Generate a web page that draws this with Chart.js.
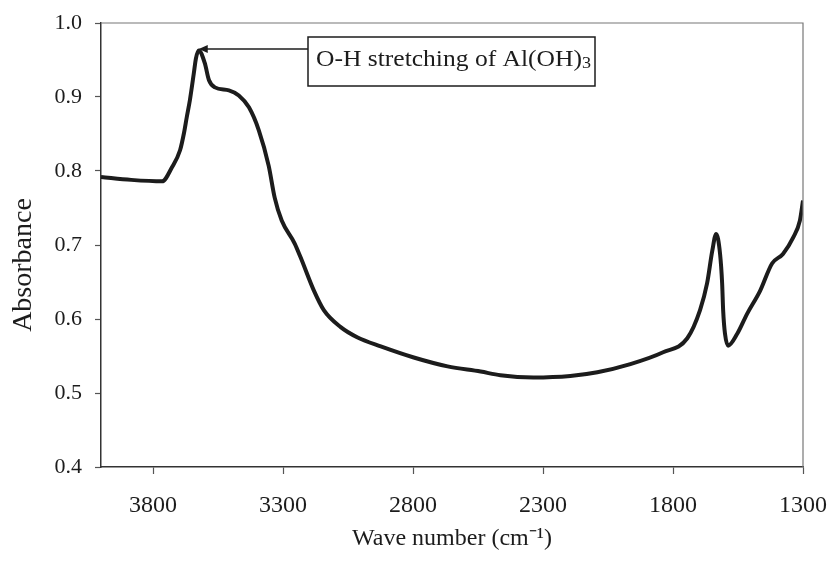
<!DOCTYPE html>
<html>
<head>
<meta charset="utf-8">
<script src="https://cdn.jsdelivr.net/npm/chart.js@4/dist/chart.umd.min.js"></script>
<style>
  html, body { margin: 0; padding: 0; background: #ffffff; }
  #wrap { width: 829px; height: 573px; }
</style>
</head>
<body>
<div id="wrap"><canvas id="irChart" width="829" height="573"></canvas></div>
<script>
// ---- data ----
const waveNumbers = [
    4000, 3884, 3765, 3727, 3696, 3681, 3670, 3658, 3643, 3635, 3624,
    3601, 3585, 3562, 3508, 3470, 3431, 3393, 3355, 3332, 3305, 3255,
    3232, 3182, 3143, 3078, 3013, 2924, 2797, 2667, 2540, 2464, 2337,
    2195, 2091, 1964, 1838, 1745, 1696, 1669, 1649, 1634, 1619, 1611,
    1607, 1600, 1588, 1553, 1515, 1465, 1419, 1377, 1338, 1312, 1300
];
const absorbance = [
    0.792, 0.788, 0.786, 0.805, 0.828, 0.851, 0.873, 0.896, 0.932, 0.952, 0.963,
    0.946, 0.923, 0.913, 0.909, 0.902, 0.886, 0.855, 0.807, 0.764, 0.733, 0.702,
    0.683, 0.639, 0.612, 0.589, 0.575, 0.563, 0.548, 0.536, 0.529, 0.524, 0.521,
    0.523, 0.528, 0.539, 0.555, 0.574, 0.612, 0.648, 0.692, 0.715, 0.688, 0.648,
    0.611, 0.580, 0.564, 0.580, 0.607, 0.638, 0.675, 0.688, 0.710, 0.733, 0.760
];
const xTickValues = [3800, 3300, 2800, 2300, 1800, 1300];
const yTickValues = [0.4, 0.5, 0.6, 0.7, 0.8, 0.9, 1.0];

// annotated peak
const peakWave = 3624;
const peakAbs = 0.963;

const serif = "'Liberation Serif', 'Times New Roman', serif";
const ink = '#1c1c1c';

// frame, y title and labelled arrow
const annotationPlugin = {
    id: 'annotation',
    afterDatasetsDraw(chart) {
        const { ctx, chartArea, scales } = chart;
        ctx.save();

        // top and right border of the plot box
        ctx.strokeStyle = '#777777';
        ctx.lineWidth = 1.2;
        ctx.beginPath();
        ctx.moveTo(chartArea.left, chartArea.top);
        ctx.lineTo(chartArea.right, chartArea.top);
        ctx.lineTo(chartArea.right, chartArea.bottom);
        ctx.stroke();

        // y axis title (sits a bit below the middle in the original)
        ctx.save();
        ctx.fillStyle = ink;
        ctx.font = '28px ' + serif;
        ctx.textAlign = 'center';
        ctx.textBaseline = 'middle';
        ctx.translate(24, 265);
        ctx.rotate(-Math.PI / 2);
        ctx.fillText('Absorbance', 0, 0);
        ctx.restore();

        // label box
        const boxX = 308, boxY = 37, boxW = 287, boxH = 49;
        ctx.strokeStyle = ink;
        ctx.lineWidth = 1.5;
        ctx.strokeRect(boxX, boxY, boxW, boxH);

        ctx.fillStyle = ink;
        ctx.textBaseline = 'alphabetic';
        ctx.font = '24px ' + serif;
        const main = 'O-H stretching of Al(OH)';
        const w = ctx.measureText(main).width;
        const sx = 266 / w;   // the scan is a little stretched sideways
        ctx.save();
        ctx.translate(boxX + 8, boxY + 29);
        ctx.scale(sx, 1);
        ctx.fillText(main, 0, 0);
        ctx.font = '17px ' + serif;
        ctx.fillText('3', w, 2);
        ctx.restore();

        // arrow to the peak
        const px = scales.x.getPixelForValue(peakWave);
        const ay = boxY + 12;
        ctx.lineWidth = 1.5;
        ctx.beginPath();
        ctx.moveTo(boxX, ay);
        ctx.lineTo(px + 2, ay);
        ctx.stroke();
        ctx.beginPath();
        ctx.moveTo(px, ay);
        ctx.lineTo(px + 9, ay - 4);
        ctx.lineTo(px + 9, ay + 4);
        ctx.closePath();
        ctx.fill();

        ctx.restore();
    }
};

const ctx = document.getElementById('irChart').getContext('2d');
new Chart(ctx, {
    type: 'scatter',
    data: {
        datasets: [{
            label: 'Absorbance',
            data: waveNumbers.map((x, i) => ({ x: x, y: absorbance[i] })),
            showLine: true,
            borderColor: ink,
            borderWidth: 4,
            pointRadius: 0,
            cubicInterpolationMode: 'monotone',
            fill: false
        }]
    },
    options: {
        responsive: false,
        animation: false,
        layout: { padding: { left: 0, right: 26, top: 0, bottom: 0 } },
        plugins: {
            legend: { display: false },
            tooltip: { enabled: false }
        },
        scales: {
            x: {
                type: 'linear',
                reverse: true,
                min: 1300,
                max: 4000,
                afterBuildTicks: (axis) => { axis.ticks = xTickValues.map(v => ({ value: v })); },
                afterFit: (axis) => {
                    axis.height = 106;
                    axis.paddingLeft = 0;
                    axis.paddingRight = 0;
                },
                grid: { drawOnChartArea: false, tickLength: 7, color: '#555555', tickWidth: 1.2 },
                border: { display: true, color: '#333333', width: 1.5 },
                ticks: {
                    padding: 17,
                    color: ink,
                    font: { family: serif, size: 24 },
                    maxRotation: 0,
                    callback: (v) => String(v)
                },
                title: {
                    display: true,
                    text: 'Wave number (cm⁻¹)',
                    color: ink,
                    font: { family: serif, size: 24 },
                    padding: { top: 0, bottom: 20 }
                }
            },
            y: {
                type: 'linear',
                min: 0.4,
                max: 1.0,
                afterBuildTicks: (axis) => { axis.ticks = yTickValues.map(v => ({ value: v })); },
                afterFit: (axis) => {
                    axis.width = 101;
                    axis.paddingTop = 23;
                    axis.paddingBottom = 0;
                },
                grid: { drawOnChartArea: false, tickLength: 6, color: '#555555', tickWidth: 1.2 },
                border: { display: true, color: '#333333', width: 1.5 },
                ticks: {
                    padding: 13,
                    color: ink,
                    font: { family: serif, size: 22 },
                    callback: (v) => v.toFixed(1)
                },
                title: { display: false }
            }
        }
    },
    plugins: [annotationPlugin]
});
</script>
</body>
</html>
